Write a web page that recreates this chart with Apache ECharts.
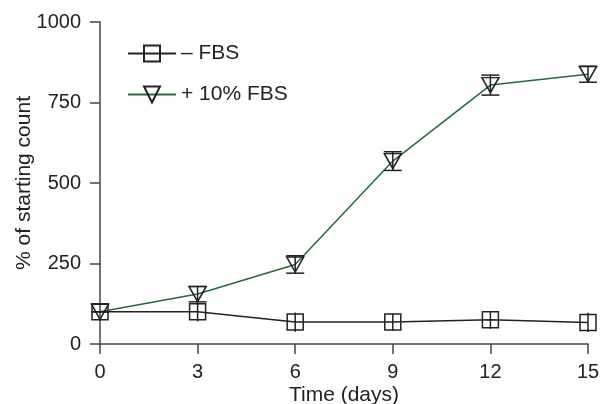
<!DOCTYPE html>
<html>
<head>
<meta charset="utf-8">
<script src="https://cdn.jsdelivr.net/npm/echarts@6/dist/echarts.min.js"></script>
<style>
  html, body { margin: 0; padding: 0; background: #fff; }
  #chart { width: 600px; height: 404px; }
</style>
</head>
<body>
<div id="chart"></div>
<script>
// days and values
const days = [0, 3, 6, 9, 12, 15]
const noFbs = [100, 100, 68, 68, 75, 67]
const noFbsErr = [0, 30, 30, 27, 28, 30]
const withFbs = [100, 155, 247, 568, 804, 838]
const withFbsErr = [0, 24, 27, 29, 31, 25]
const xTicks = [0, 3, 6, 9, 12, 15]
const yTicks = [0, 250, 500, 750, 1000]

const FONT = 'Liberation Sans'
const triangle = 'path://M0,0L2,0L1,1.8Z'

// error bars as custom series, capWidth 0 = no cap
function errorBars (values, errs, color, capWidth) {
  return {
    type: 'custom',
    silent: true,
    z: 5,
    data: days.map((d, i) => [d, values[i] - errs[i], values[i] + errs[i]]),
    renderItem (params, api) {
      const lo = api.coord([api.value(0), api.value(1)])
      const hi = api.coord([api.value(0), api.value(2)])
      const style = { stroke: color, lineWidth: 1.5 }
      const children = [{ type: 'line', shape: { x1: lo[0], y1: lo[1], x2: hi[0], y2: hi[1] }, style }]
      if (capWidth) {
        const h = capWidth / 2
        children.push({ type: 'line', shape: { x1: lo[0] - h, y1: lo[1], x2: lo[0] + h, y2: lo[1] }, style })
        children.push({ type: 'line', shape: { x1: hi[0] - h, y1: hi[1], x2: hi[0] + h, y2: hi[1] }, style })
      }
      return { type: 'group', children }
    }
  }
}

const chart = echarts.init(document.getElementById('chart'))
chart.setOption({
  animation: false,
  textStyle: { fontFamily: FONT },
  grid: { left: 100, right: 12, top: 22, bottom: 60, containLabel: false, outerBoundsMode: 'none' },
  legend: {
    orient: 'vertical',
    left: 127,
    top: 43,
    padding: 0,
    itemWidth: 48,
    itemHeight: 20,
    itemGap: 20,
    textStyle: { fontFamily: FONT, fontSize: 21, color: '#222' },
    data: ['– FBS', '+ 10% FBS']
  },
  xAxis: {
    type: 'value',
    min: 0,
    max: 15,
    interval: 3,
    name: 'Time (days)',
    nameLocation: 'middle',
    nameGap: 41,
    nameMoveOverlap: false,
    nameTextStyle: { fontFamily: FONT, fontSize: 21, color: '#222' },
    axisLine: { lineStyle: { color: '#444', width: 1.5 } },
    axisTick: { show: true, inside: false, length: 10, lineStyle: { color: '#444', width: 1.5 }, customValues: xTicks },
    axisLabel: { margin: 18, fontSize: 20, color: '#222', customValues: xTicks },
    splitLine: { show: false }
  },
  yAxis: {
    type: 'value',
    min: 0,
    max: 1000,
    interval: 250,
    name: '% of starting count',
    nameLocation: 'middle',
    nameGap: 65,
    nameMoveOverlap: false,
    nameTextStyle: { fontFamily: FONT, fontSize: 21, color: '#222' },
    axisLine: { show: true, lineStyle: { color: '#444', width: 1.5 } },
    axisTick: { show: true, inside: false, length: 10, lineStyle: { color: '#444', width: 1.5 }, customValues: yTicks },
    axisLabel: { margin: 19, fontSize: 20, color: '#222', customValues: yTicks, formatter: v => String(v) },
    splitLine: { show: false }
  },
  series: [
    {
      name: '– FBS',
      type: 'line',
      data: days.map((d, i) => [d, noFbs[i]]),
      symbol: 'rect',
      symbolSize: 16,
      showAllSymbol: true,
      lineStyle: { color: '#222', width: 1.5 },
      itemStyle: { color: 'none', borderColor: '#222', borderWidth: 1.5 },
      z: 3
    },
    {
      name: '+ 10% FBS',
      type: 'line',
      data: days.map((d, i) => [d, withFbs[i]]),
      symbol: triangle,
      symbolSize: [17, 15],
      showAllSymbol: true,
      lineStyle: { color: '#236b3a', width: 1.5 },
      itemStyle: { color: 'none', borderColor: '#222', borderWidth: 1.5 },
      z: 4
    },
    errorBars(noFbs, noFbsErr, '#222', 0),
    errorBars(withFbs, withFbsErr, '#222', 18)
  ]
})
</script>
</body>
</html>
